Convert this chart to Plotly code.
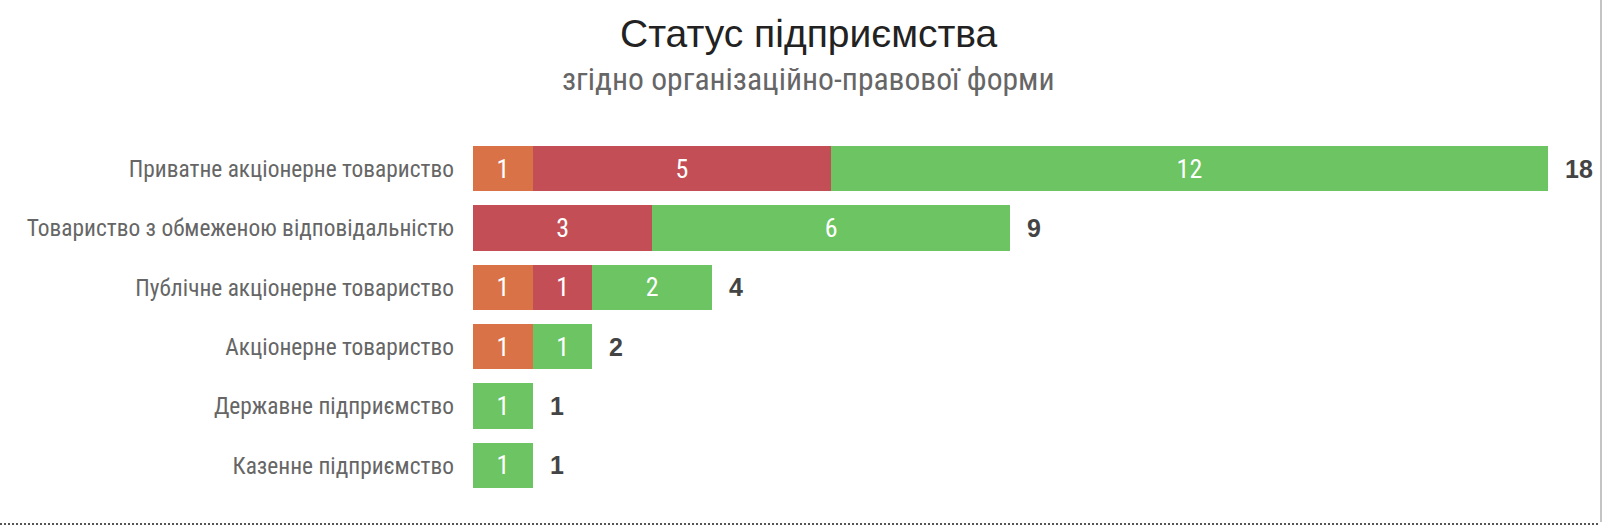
import plotly.graph_objects as go

categories = [
    "Приватне акціонерне товариство",
    "Товариство з обмеженою відповідальністю",
    "Публічне акціонерне товариство",
    "Акціонерне товариство",
    "Державне підприємство",
    "Казенне підприємство",
]
orange_vals = [1, None, 1, 1, None, None]
red_vals = [5, 3, 1, None, None, None]
green_vals = [12, 6, 2, 1, 1, 1]
series = [
    ("Група 1", orange_vals, "#D97347"),
    ("Група 2", red_vals, "#C44E55"),
    ("Група 3", green_vals, "#6CC462"),
]
totals = [sum(v or 0 for v in vals) for vals in zip(orange_vals, red_vals, green_vals)]

title_text = "Статус підприємства"
subtitle_text = "згідно організаційно-правової форми"

NARROW = "Roboto Condensed, Roboto, sans-serif"
REG = "Liberation Sans, Arial, sans-serif"

W, H = 1606, 526
L, R = 473, 5
T, B = 139.4, 30.9
plot_w = W - L - R
plot_h = H - T - B
px_per_unit = 59.7
xmax = plot_w / px_per_unit

fig = go.Figure()
for name, vals, color in series:
    fig.add_trace(go.Bar(
        y=categories, x=vals, name=name, orientation="h",
        marker=dict(color=color, line=dict(width=0)),
        text=vals, texttemplate="%{x}", textposition="inside",
        insidetextanchor="middle", textangle=0,
        insidetextfont=dict(family=NARROW, size=26, color="white"),
        constraintext="none", hoverinfo="skip", showlegend=False,
    ))

for cat, tot in zip(categories, totals):
    fig.add_annotation(x=tot, y=cat, text=f"<b>{tot}</b>", showarrow=False,
                       xanchor="left", yanchor="middle", xshift=15,
                       font=dict(family=REG, size=25, color="#444444"))

def py(p):
    return (H - B - p) / plot_h

def px(p):
    return (p - L) / plot_w

fig.add_annotation(x=px(808.5), y=py(34), xref="paper", yref="paper", text=title_text,
                   showarrow=False, xanchor="center", yanchor="middle",
                   font=dict(family=REG, size=39, color="#222222"))
fig.add_annotation(x=px(808), y=py(80), xref="paper", yref="paper", text=subtitle_text,
                   showarrow=False, xanchor="center", yanchor="middle",
                   font=dict(family=NARROW, size=31.6, color="#666666"))

# frame decorations
fig.add_shape(type="line", xref="paper", yref="paper", x0=px(1601), x1=px(1601), y0=py(0), y1=py(522),
              line=dict(color="#b0b0b0", width=1.5))
fig.add_shape(type="line", xref="paper", yref="paper", x0=px(0), x1=px(1598), y0=py(524), y1=py(524),
              line=dict(color="#555555", width=2, dash="2px,2px"))

fig.update_layout(
    width=W, height=H, barmode="stack", bargap=0.233,
    margin=dict(l=L, r=R, t=T, b=B, autoexpand=False),
    paper_bgcolor="white", plot_bgcolor="white",
    xaxis=dict(range=[0, xmax], visible=False, fixedrange=True),
    yaxis=dict(autorange="reversed", showgrid=False, zeroline=False, showline=False,
               ticks="", ticklabelstandoff=18,
               tickfont=dict(family=NARROW, size=23.4, color="#666666")),
)
fig.write_html("out.html")
